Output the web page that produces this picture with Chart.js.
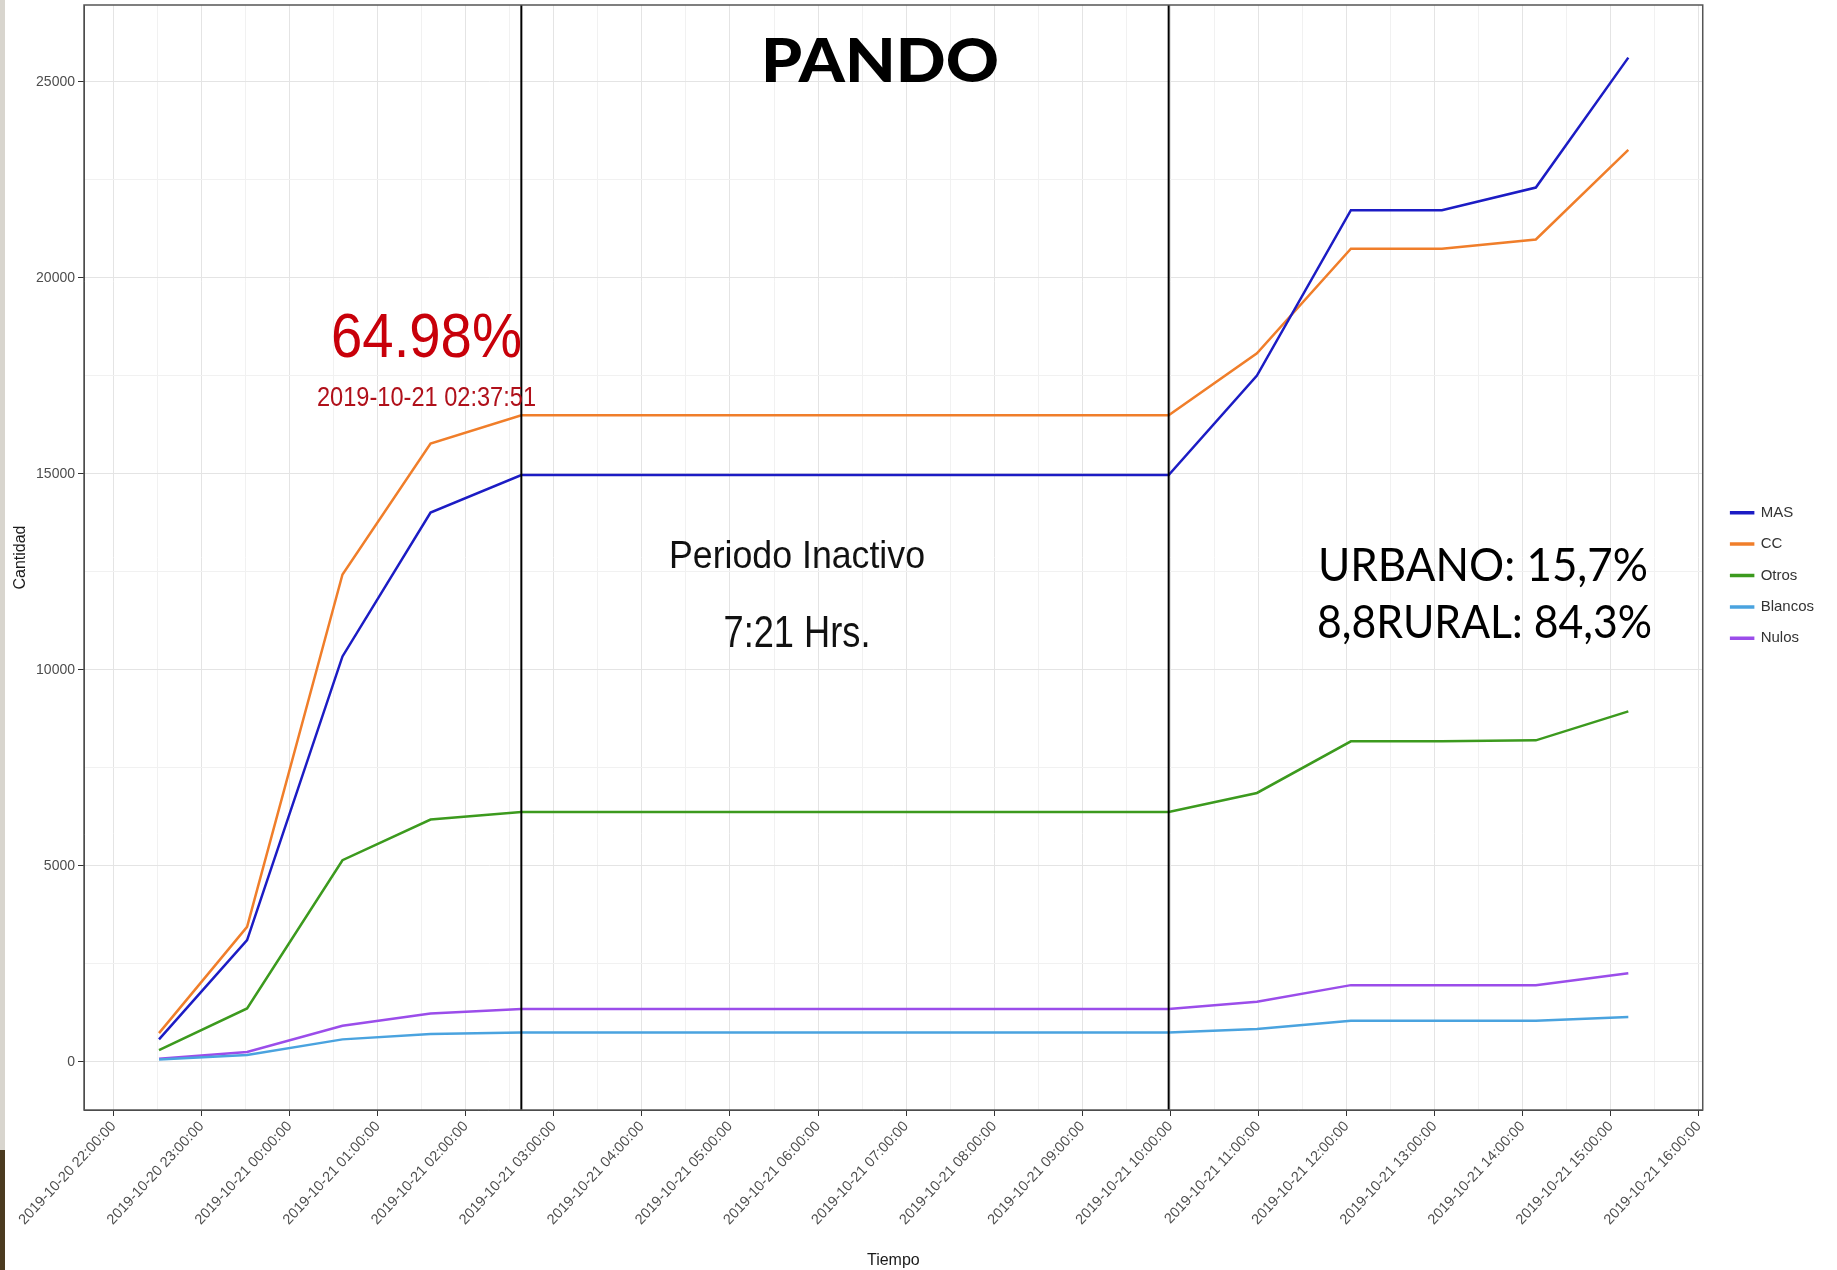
<!DOCTYPE html>
<html>
<head>
<meta charset="utf-8">
<script src="https://cdn.jsdelivr.net/npm/chart.js"></script>
<style>
  html, body { margin: 0; padding: 0; background: #fff; }
  #wrap { position: relative; width: 1837px; height: 1270px; }
  .edge { position: absolute; left: 0; width: 5px; }
</style>
</head>
<body>
<div id="wrap">
  <canvas id="myChart" width="1837" height="1270"></canvas>
  <div class="edge" style="top:0;height:1150px;background:#d8d5ce"></div>
  <div class="edge" style="top:1150px;height:120px;background:#4b3b20"></div>
</div>
<script>
// conteo de votos, Pando
var times = ['2019-10-20 22:31:00', '2019-10-20 23:31:00', '2019-10-21 00:36:00', '2019-10-21 01:36:00',
             '2019-10-21 02:37:51', '2019-10-21 09:58:51', '2019-10-21 10:59:00', '2019-10-21 12:03:00',
             '2019-10-21 13:05:00', '2019-10-21 14:09:00', '2019-10-21 15:12:00'];
var mas     = [571, 3102, 10342, 14013, 14969, 14969, 17508, 21729, 21729, 22306, 25620];
var cc      = [730, 3442, 12432, 15775, 16493, 16493, 18076, 20743, 20743, 20981, 23267];
var otros   = [298, 1361, 5142, 6179, 6374, 6374, 6858, 8175, 8180, 8200, 8940];
var blancos = [60, 171, 571, 706, 745, 745, 834, 1045, 1045, 1045, 1139];
var nulos   = [75, 247, 918, 1234, 1345, 1345, 1530, 1955, 1955, 1955, 2261];

var seriesNames = ['MAS', 'CC', 'Otros', 'Blancos', 'Nulos'];
var seriesData = [mas, cc, otros, blancos, nulos];
var seriesColors = ['#1c1cc4', '#f07e2a', '#3c9a1e', '#4aa3df', '#9b4dea'];

var xTickLabels = ['2019-10-20 22:00:00', '2019-10-20 23:00:00', '2019-10-21 00:00:00', '2019-10-21 01:00:00',
                   '2019-10-21 02:00:00', '2019-10-21 03:00:00', '2019-10-21 04:00:00', '2019-10-21 05:00:00',
                   '2019-10-21 06:00:00', '2019-10-21 07:00:00', '2019-10-21 08:00:00', '2019-10-21 09:00:00',
                   '2019-10-21 10:00:00', '2019-10-21 11:00:00', '2019-10-21 12:00:00', '2019-10-21 13:00:00',
                   '2019-10-21 14:00:00', '2019-10-21 15:00:00', '2019-10-21 16:00:00'];
var yTicks = [0, 5000, 10000, 15000, 20000, 25000];

// inicio y fin del periodo inactivo
var eventTimes = ['2019-10-21 02:37:51', '2019-10-21 09:58:51'];

var base = Date.UTC(2019, 9, 20);
function hoursOf(s) {
    return (new Date(s.replace(' ', 'T') + 'Z').getTime() - base) / 3600000;
}

// major + minor (half way) ticks like ggplot
var xMajor = xTickLabels.map(hoursOf);
var xAll = [];
xMajor.forEach(function (h, i) { xAll.push(h); if (i < xMajor.length - 1) xAll.push(h + 0.5); });
var yAll = [];
yTicks.forEach(function (v, i) { yAll.push(v); if (i < yTicks.length - 1) yAll.push(v + 2500); });
function isMajorX(v) { return xMajor.indexOf(v) >= 0; }
function isMajorY(v) { return yTicks.indexOf(v) >= 0; }

function fitText(ctx, txt, x, y, w, font, color, align) {
    ctx.font = font;
    ctx.fillStyle = color;
    ctx.textAlign = 'left';
    ctx.textBaseline = 'alphabetic';
    var k = w / ctx.measureText(txt).width;
    var left = align === 'center' ? x - w / 2 : x;
    ctx.save();
    ctx.translate(left, y);
    ctx.scale(k, 1);
    ctx.fillText(txt, 0, 0);
    ctx.restore();
}

var overlay = {
    id: 'overlay',
    afterLayout: function (chart) {
        // nudge the legend block to where ggplot puts it
        var lg = chart.legend;
        lg.left += 12; lg.right += 12;
        lg.top += 18; lg.bottom += 18;
    },
    afterDatasetsDraw: function (chart) {
        var ctx = chart.ctx, a = chart.chartArea, xs = chart.scales.x;
        ctx.save();
        ctx.strokeStyle = '#000';
        ctx.lineWidth = 2;
        eventTimes.forEach(function (t) {
            var px = xs.getPixelForValue(hoursOf(t));
            ctx.beginPath(); ctx.moveTo(px, a.top); ctx.lineTo(px, a.bottom); ctx.stroke();
        });
        ctx.strokeStyle = '#555';
        ctx.lineWidth = 1.5;
        ctx.strokeRect(a.left, a.top, a.width, a.height);

        fitText(ctx, 'PANDO', 880, 82, 238, '900 61px Lato', '#000', 'center');
        fitText(ctx, '64.98%', 331, 357, 191, '63px "Liberation Sans"', '#c8000a');
        fitText(ctx, '2019-10-21 02:37:51', 317, 406, 219, '28px "Liberation Sans"', '#b0101a');
        fitText(ctx, 'Periodo Inactivo', 797, 568, 256, '39px "Liberation Sans"', '#111', 'center');
        fitText(ctx, '7:21 Hrs.', 797, 647, 147, '44px "Liberation Sans"', '#111', 'center');
        fitText(ctx, 'URBANO: 15,7%', 1318, 581, 330, '46px Lato', '#000');
        fitText(ctx, '8,8RURAL: 84,3%', 1317, 638, 335, '46px Lato', '#000');
        ctx.restore();
    }
};

var datasets = seriesNames.map(function (name, i) {
    return {
        label: name,
        data: times.map(function (t, j) { return { x: hoursOf(t), y: seriesData[i][j] }; }),
        borderColor: seriesColors[i],
        backgroundColor: seriesColors[i],
        borderWidth: 2.5,
        pointRadius: 0,
        tension: 0
    };
});

var ctx = document.getElementById('myChart').getContext('2d');
window.myLine = new Chart(ctx, {
    type: 'line',
    data: { datasets: datasets },
    options: {
        responsive: false,
        animation: false,
        devicePixelRatio: 1,
        layout: { padding: { left: 5, top: 5, right: 25, bottom: 0 } },
        plugins: {
            legend: {
                position: 'right',
                fullSize: false,
                labels: {
                    boxWidth: 22,
                    boxHeight: 1,
                    padding: 16.4,
                    color: '#333',
                    font: { family: 'Liberation Sans', size: 15 }
                }
            },
            tooltip: { enabled: false }
        },
        scales: {
            x: {
                type: 'linear',
                min: 21.665,
                max: 40.045,
                afterBuildTicks: function (s) { s.ticks = xAll.map(function (v) { return { value: v }; }); },
                afterFit: function (s) { s.height = 160; },
                ticks: {
                    autoSkip: false,
                    minRotation: 47,
                    maxRotation: 47,
                    padding: 2,
                    color: '#4d4d4d',
                    font: { family: 'Liberation Sans', size: 14.5 },
                    callback: function (v) { return isMajorX(v) ? xTickLabels[xMajor.indexOf(v)] : ''; }
                },
                grid: {
                    color: function (c) { return c.tick && isMajorX(c.tick.value) ? '#e4e4e4' : '#f1f1f1'; },
                    tickColor: function (c) { return c.tick && isMajorX(c.tick.value) ? '#333' : 'rgba(0,0,0,0)'; },
                    tickLength: 6
                },
                border: { display: true, color: '#333', width: 1 },
                title: { display: true, text: 'Tiempo', color: '#1a1a1a', padding: 0,
                         font: { family: 'Liberation Sans', size: 16 } }
            },
            y: {
                min: -1231,
                max: 26963,
                afterBuildTicks: function (s) { s.ticks = yAll.map(function (v) { return { value: v }; }); },
                afterFit: function (s) { s.width = 79; s.paddingTop = 0; s.paddingBottom = 0; },
                ticks: {
                    padding: 3,
                    color: '#4d4d4d',
                    font: { family: 'Liberation Sans', size: 14 },
                    callback: function (v) { return isMajorY(v) ? String(v) : ''; }
                },
                grid: {
                    color: function (c) { return c.tick && isMajorY(c.tick.value) ? '#e4e4e4' : '#f1f1f1'; },
                    tickColor: function (c) { return c.tick && isMajorY(c.tick.value) ? '#333' : 'rgba(0,0,0,0)'; },
                    tickLength: 6
                },
                border: { display: true, color: '#333', width: 1 },
                title: { display: true, text: 'Cantidad', color: '#1a1a1a', padding: { top: 6, bottom: 0 },
                         font: { family: 'Liberation Sans', size: 16 } }
            }
        }
    },
    plugins: [overlay]
});
</script>
</body>
</html>
